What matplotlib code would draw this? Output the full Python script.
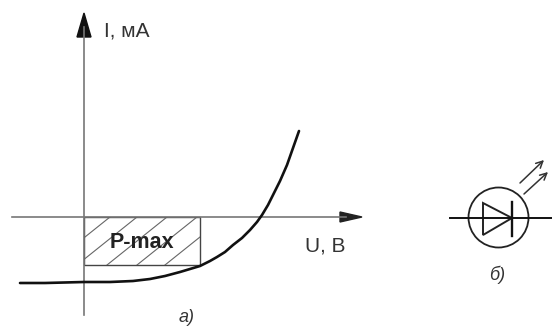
import matplotlib
matplotlib.use("Agg")
import matplotlib.pyplot as plt
from matplotlib.patches import Circle, Polygon, Rectangle

plt.rcParams["font.family"] = ["Liberation Sans", "DejaVu Sans"]

# curve, origin at the axes crossing
curve_u = [-64, -39, 0, 26, 49, 66, 81, 96, 116, 126, 133, 141, 149, 158, 166,
           173, 178, 184, 189, 196, 203, 209, 215]
curve_i = [-66, -66, -65, -65, -64, -62, -59, -55, -49, -44, -40, -35, -28, -21,
           -13, -5, 2, 12, 22, 36, 52, 69, 86]

# working area under the curve
pmax_u = 116
pmax_i = -48
hatch_top_u = [26, 53, 83, 113, 141]
hatch_run = 60

label_y = "I, мА"
label_x = "U, В"
label_area = "P-max"
label_a = "а)"
label_b = "б)"

fig = plt.figure(figsize=(5.52, 3.27), dpi=100)
ax = fig.add_axes([0, 0, 1, 1])
ax.set_xlim(-84, 468)
ax.set_ylim(-110, 217)
ax.axis("off")

# axes
ax.plot([-72, 262], [0, 0], color="#777777", lw=1.2)
ax.plot([0, 0], [-98, 190], color="#777777", lw=1.2)
ax.add_patch(Polygon([[-7, 180], [7, 180], [0, 204]], color="#111111"))
ax.add_patch(Polygon([[256, 5], [256, -5], [278, 0]], color="#222222"))

# hatched rectangle
box = Rectangle((0, pmax_i), pmax_u, -pmax_i, fill=False, ec="#444444", lw=1.0)
ax.add_patch(box)
for t in hatch_top_u:
    ln, = ax.plot([t, t - hatch_run], [0, pmax_i], color="#666666", lw=0.8)
    ln.set_clip_path(box)

ax.plot(curve_u, curve_i, color="#111111", lw=1.9, solid_capstyle="round",
        solid_joinstyle="round")

ax.text(20, 186, label_y, fontsize=15, color="#333333", va="center")
ax.text(221, -29, label_x, fontsize=15, color="#333333", va="center")
ax.text(58, -26, label_area, fontsize=15.5, fontweight="bold", color="#222222",
        ha="center", va="center")
ax.text(103, -101, label_a, fontsize=13, style="italic", color="#333333",
        ha="center", va="center")
ax.text(413, -58, label_b, fontsize=13, style="italic", color="#333333",
        ha="center", va="center")

# LED symbol
ax.add_patch(Circle((414.5, -0.5), 30, fill=False, ec="#222222", lw=1.3))
ax.plot([366, 468], [-1, -1], color="#111111", lw=1.4)
ax.add_patch(Polygon([[399, 14], [428, -1], [399, -18]], fill=False,
                     ec="#222222", lw=1.4))
ax.plot([428, 428], [15, -19], color="#111111", lw=1.7)
for a, b in [((436, 34), (460, 57)), ((440, 23), (464, 45))]:
    ax.annotate("", xy=b, xytext=a,
                arrowprops=dict(arrowstyle="->", color="#333333", lw=1.1,
                                shrinkA=0, shrinkB=0, mutation_scale=12))

fig.savefig("out.png", dpi=100)
